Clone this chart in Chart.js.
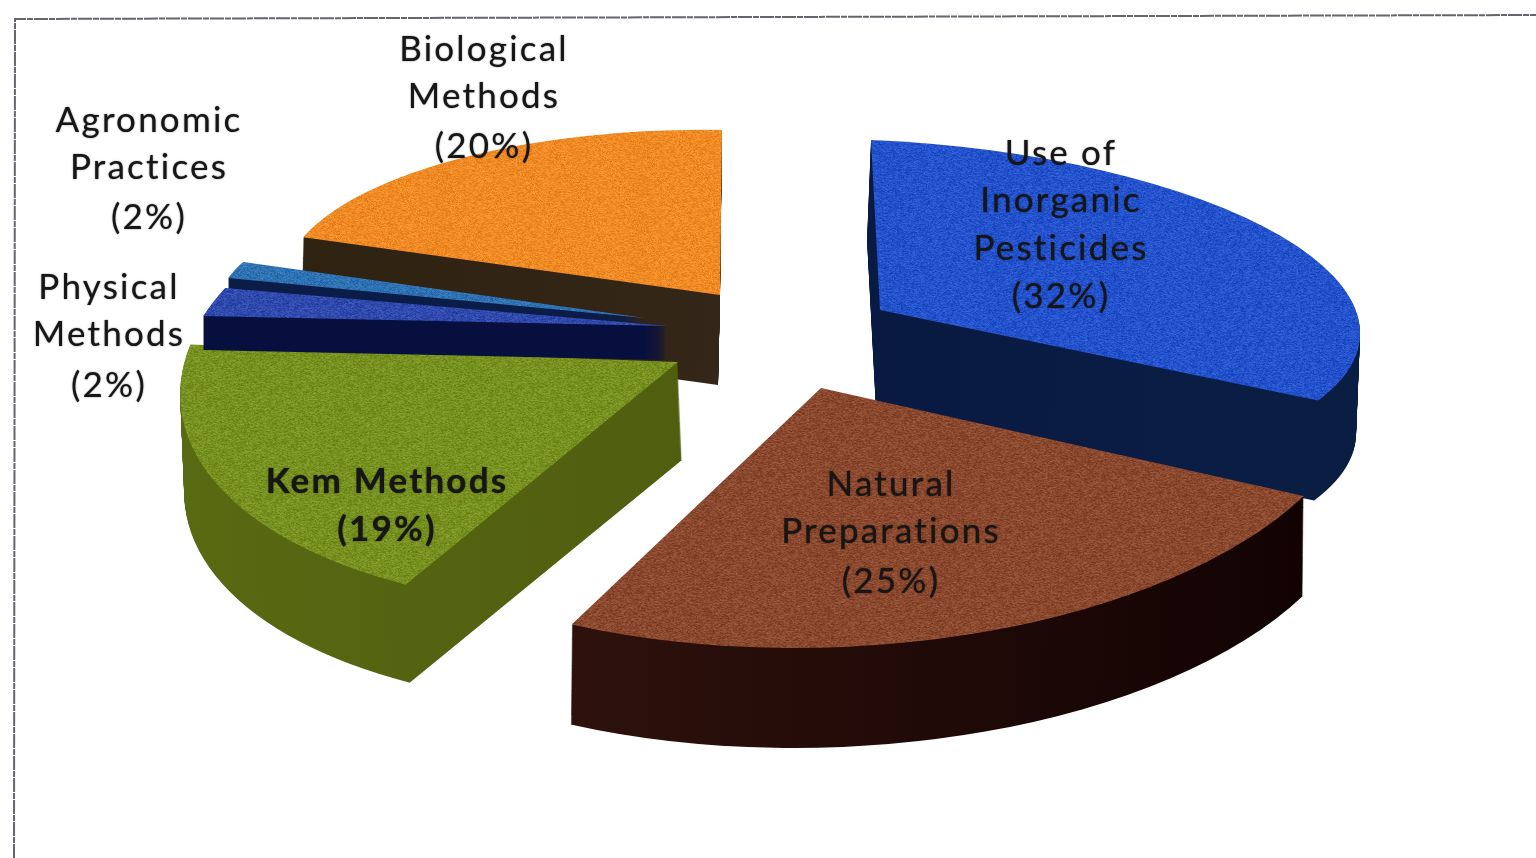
<!DOCTYPE html>
<html><head><meta charset="utf-8">
<style>html,body{margin:0;padding:0;background:#fff;overflow:hidden}#w{position:absolute;left:0;top:0;width:1536px;height:858px}</style>
<script src="https://cdn.jsdelivr.net/npm/chart.js@4"></script></head>
<body><div id="w"><canvas id="c" width="1536" height="858"></canvas></div>
<script>
const categories=["Use of Inorganic Pesticides","Natural Preparations","Kem Methods","Physical Methods","Agronomic Practices","Biological Methods"];
const values=[32,25,19,2,2,20];
const labelLines=[["Use of","Inorganic","Pesticides"],["Natural","Preparations"],["Kem Methods"],["Physical","Methods"],["Agronomic","Practices"],["Biological","Methods"]];
const labelX=[1061,891,387,109,149,484];
const labelY=[[154,201,249,297],[485,532,582],[482,530],[288,335,386],[121,168,218],[50,97,147]];
const topColors=["#2352cc","#8a482e","#76911f","#3049ad","#2f72b4","#f08a25"];
const wallColors=[["#091640","#0a1e44"],["#3a1710","#100202"],["#5a6a12","#46520e"],["#070f3f","#070f3f"],["#0b1c48","#0b1c48"],["#2e2210","#3a2a20"]];
// placement of each exploded wedge on the tilted plane: origin, x axis, y axis, extrusion
const frames=[
 {o:[880,310],a:[480,20],b:[9,170],d:[-4,100]},
 {o:[821,388],a:[543,-3],b:[-20,260],d:[-1,100]},
 {o:[678,362],a:[493,2],b:[-69,247],d:[4,98]},
 {o:[668,326],a:[473,-4],b:[-116,224],d:[0,34]},
 {o:[645,318],a:[427,15],b:[-14,135],d:[0,13]},
 {o:[720,295],a:[439,7],b:[-2,165],d:[-2,90]}
];
const drawOrder=[0,1,5,4,2,3];
// scan-grain surface: a fixed stipple laid over a slice colour
function grain(ctx,color){
 const s=96,c=document.createElement('canvas');c.width=c.height=s;
 const x=c.getContext('2d');x.fillStyle=color;x.fillRect(0,0,s,s);
 const im=x.getImageData(0,0,s,s),p=im.data;
 for(let j=0;j<s;j++)for(let i=0;i<s;i++){
  const h=Math.sin(i*127.1+j*311.7)*43758.5453,t=(h-Math.floor(h))-0.5,k=i*4+j*s*4;
  const v=t*46;p[k]=Math.min(255,Math.max(0,p[k]+v));p[k+1]=Math.min(255,Math.max(0,p[k+1]+v));p[k+2]=Math.min(255,Math.max(0,p[k+2]+v));
 }
 x.putImageData(im,0,0);return ctx.createPattern(c,'repeat');
}
const wedge3d={id:'wedge3d',
 beforeDatasetDraw(chart,args){
  const ctx=chart.ctx,arcs=args.meta.data;
  for(const i of drawOrder){
   const arc=arcs[i],f=frames[i],R=arc.outerRadius,base=arc.options;
   const place=(ox,oy)=>{ctx.save();ctx.transform(f.a[0]/R,f.a[1]/R,f.b[0]/R,f.b[1]/R,ox,oy);ctx.translate(-arc.x,-arc.y);};
   const g=ctx.createLinearGradient(arc.x-R,0,arc.x+R,0);
   g.addColorStop(0,wallColors[i][0]);g.addColorStop(1,wallColors[i][1]);
   const n=Math.ceil(Math.hypot(f.d[0],f.d[1]));
   arc.options=Object.assign(Object.create(base),{backgroundColor:g,borderWidth:0});
   for(let s=n;s>=1;s--){place(f.o[0]+f.d[0]*s/n,f.o[1]+f.d[1]*s/n);arc.draw(ctx);ctx.restore();}
   arc.options=Object.assign(Object.create(base),{backgroundColor:grain(ctx,topColors[i]),borderWidth:0});
   place(f.o[0],f.o[1]);arc.draw(ctx);ctx.restore();
   arc.options=base;
  }
  return false;
 },
 afterDraw(chart){
  const ctx=chart.ctx;ctx.save();
  ctx.strokeStyle='#63666c';ctx.lineWidth=2;ctx.setLineDash([14,1,6,1]);
  ctx.beginPath();ctx.moveTo(14,858);ctx.lineTo(15,19);ctx.lineTo(1536,15);ctx.stroke();ctx.setLineDash([]);
  ctx.textAlign='center';ctx.textBaseline='middle';ctx.fillStyle='#161616';
  ctx.shadowColor='rgba(0,0,0,.65)';ctx.shadowBlur=1.5;ctx.letterSpacing='2.2px';
  categories.forEach((c,i)=>{
   ctx.font=(i==2?'bold ':'')+'35px Lato';
   const lines=[...labelLines[i],'('+values[i]+'%)'];
   lines.forEach((t,k)=>ctx.fillText(t,labelX[i],labelY[i][k]));
  });
  ctx.restore();
 }
};
new Chart(document.getElementById('c'),{type:'pie',
 data:{labels:categories,datasets:[{data:values,backgroundColor:topColors,borderWidth:0}]},
 options:{responsive:false,animation:false,events:[],plugins:{legend:{display:false},tooltip:{enabled:false}}},
 plugins:[wedge3d]});
</script></body></html>
